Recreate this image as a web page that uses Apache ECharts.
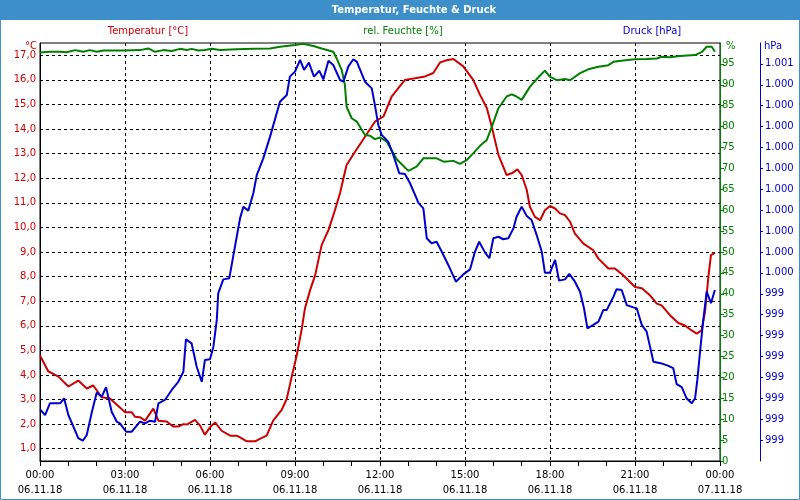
<!DOCTYPE html>
<html>
<head>
<meta charset="utf-8">
<script src="https://cdn.jsdelivr.net/npm/echarts@6/dist/echarts.min.js"></script>
<style>html,body{margin:0;padding:0;background:#fff}#c{width:800px;height:500px}</style>
</head>
<body>
<div id="c"></div>
<script>
// hours since 06.11.18 00:00
var tempTime = [0,0.29,0.65,1.00,1.35,1.65,1.88,2.18,2.47,2.82,3.00,3.24,3.35,3.53,3.71,4.00,4.18,4.47,4.70,4.88,5.06,5.18,5.47,5.65,5.82,6.00,6.18,6.41,6.71,6.94,7.06,7.30,7.59,7.76,8.00,8.23,8.53,8.71,8.88,9.06,9.24,9.35,9.53,9.71,9.94,10.18,10.41,10.59,10.82,11.12,11.47,11.82,12.12,12.41,12.88,13.24,13.59,13.88,14.12,14.35,14.59,14.94,15.29,15.53,15.77,15.94,16.18,16.47,16.65,16.85,17.00,17.18,17.29,17.47,17.65,17.82,18.00,18.18,18.35,18.53,18.71,18.88,19.18,19.53,19.71,20.06,20.29,20.59,20.76,21.00,21.24,21.53,21.77,21.94,22.24,22.53,22.76,23.00,23.18,23.35,23.47,23.59,23.68,23.82];
var tempVal = [4.79,4.15,3.93,3.53,3.77,3.45,3.57,3.09,3.04,2.68,2.48,2.48,2.30,2.28,2.14,2.63,2.14,2.11,1.90,1.90,2.00,1.98,2.17,1.94,1.57,1.87,2.07,1.73,1.53,1.53,1.46,1.30,1.30,1.40,1.53,2.14,2.58,3.03,3.91,4.79,5.88,6.70,7.44,8.05,9.28,9.89,10.70,11.40,12.54,13.08,13.69,14.30,14.51,15.32,16.00,16.07,16.14,16.28,16.71,16.80,16.85,16.55,16.00,15.39,14.86,14.11,12.95,12.13,12.20,12.36,12.13,11.52,10.84,10.43,10.29,10.70,10.87,10.77,10.57,10.50,10.23,9.75,9.34,9.07,8.73,8.33,8.33,8.05,7.85,7.58,7.53,7.24,6.90,6.83,6.42,6.11,6.01,5.81,5.68,5.81,6.56,7.99,8.87,8.96];

var humTime = [0,0.35,0.71,0.94,1.24,1.53,1.76,2.00,2.24,2.94,3.53,3.82,4.06,4.35,4.65,4.94,5.18,5.35,5.59,5.82,6.06,6.35,6.94,7.53,8.12,8.47,9.00,9.29,9.65,9.94,10.35,10.47,10.65,10.76,10.82,11.00,11.18,11.47,11.65,11.82,12.00,12.24,12.59,13.00,13.29,13.53,14.00,14.24,14.59,14.82,15.06,15.29,15.53,15.77,15.94,16.18,16.47,16.65,16.82,17.00,17.29,17.59,17.82,18.00,18.24,18.53,18.71,19.06,19.35,19.71,20.06,20.24,20.59,21.00,21.41,21.77,21.94,22.24,22.59,23.12,23.35,23.53,23.71,23.82];
var humVal = [97.7,97.9,97.9,97.8,98.3,97.9,98.3,97.9,98.2,98.2,98.3,98.7,97.9,98.3,98.1,98.6,98.3,98.6,98.2,98.3,98.6,98.3,98.5,98.6,98.7,99.1,99.5,99.8,99.3,98.7,97.9,96.3,93.5,90.0,84.8,82.0,81.2,78.0,77.8,77.0,77.4,76.4,72.2,69.4,70.4,72.4,72.4,71.6,71.8,71.1,72.0,73.6,75.4,76.8,79.8,84.4,87.2,87.7,87.2,86.4,89.5,91.8,93.4,91.9,91.1,91.4,91.1,92.8,93.7,94.3,94.7,95.5,95.8,96.1,96.2,96.3,96.7,96.6,96.9,97.1,97.8,99.1,99.1,97.9];

var presTime = [0,0.18,0.35,0.71,0.85,1.00,1.18,1.35,1.51,1.65,1.82,2.00,2.18,2.33,2.53,2.71,2.82,3.04,3.24,3.53,3.71,3.88,4.06,4.18,4.41,4.65,4.88,5.06,5.15,5.35,5.53,5.71,5.82,6.00,6.12,6.24,6.29,6.47,6.68,6.88,7.06,7.18,7.35,7.53,7.65,7.88,8.12,8.47,8.71,8.82,9.00,9.18,9.32,9.49,9.67,9.86,10.00,10.18,10.35,10.59,10.71,10.88,11.06,11.18,11.35,11.47,11.71,11.82,11.94,12.06,12.29,12.47,12.68,12.88,13.06,13.29,13.35,13.53,13.65,13.82,14.00,14.18,14.41,14.68,14.94,15.18,15.35,15.50,15.71,15.86,16.00,16.18,16.35,16.53,16.71,16.82,17.00,17.18,17.35,17.53,17.71,17.82,18.00,18.18,18.32,18.53,18.68,18.88,19.06,19.20,19.32,19.53,19.71,19.88,20.00,20.24,20.35,20.53,20.71,20.94,21.06,21.24,21.41,21.65,21.94,22.18,22.35,22.47,22.65,22.82,23.00,23.12,23.20,23.29,23.41,23.53,23.68,23.82];
var presVal = [998.897,998.870,998.926,998.926,998.950,998.870,998.814,998.759,998.747,998.774,998.878,998.977,998.958,999.003,998.886,998.838,998.830,998.790,998.790,998.838,998.830,998.843,998.838,998.926,998.942,998.990,999.029,999.077,999.232,999.213,999.101,999.029,999.133,999.137,999.197,999.325,999.452,999.519,999.524,999.675,999.811,999.867,999.848,999.931,1000.018,1000.098,1000.202,1000.369,1000.401,1000.489,1000.513,1000.569,1000.521,1000.556,1000.489,1000.517,1000.476,1000.565,1000.545,1000.473,1000.465,1000.537,1000.572,1000.561,1000.505,1000.465,1000.433,1000.353,1000.258,1000.210,1000.178,1000.114,1000.027,1000.023,999.979,999.907,999.886,999.859,999.716,999.692,999.699,999.651,999.588,999.508,999.543,999.567,999.651,999.699,999.647,999.620,999.716,999.723,999.711,999.716,999.763,999.819,999.867,999.822,999.803,999.731,999.651,999.551,999.551,999.612,999.513,999.519,999.545,999.508,999.460,999.381,999.285,999.301,999.317,999.372,999.372,999.436,999.472,999.468,999.396,999.385,999.381,999.301,999.269,999.125,999.117,999.105,999.094,999.018,999.003,998.950,998.926,998.950,999.038,999.165,999.325,999.460,999.405,999.468];

var tempTicks = [1,2,3,4,5,6,7,8,9,10,11,12,13,14,15,16,17];
var dayLabels = ['06.11.18','07.11.18'];
var titleText = 'Temperatur, Feuchte & Druck';
var tempName = 'Temperatur [°C]', humName = 'rel. Feuchte [%]', presName = 'Druck [hPa]';

function zip(t, v) {
  var out = [];
  for (var i = 0; i < Math.min(t.length, v.length); i++) out.push([t[i], v[i]]);
  return out;
}
var RED = '#cc0000', GREEN = '#008000', BLUE = '#0000cc', FRAME = '#3d8fc9';
var FONT = 'DejaVu Sans';

var chart = echarts.init(document.getElementById('c'), null, {renderer: 'canvas'});
chart.setOption({
  animation: false,
  backgroundColor: '#fff',
  textStyle: {fontFamily: FONT},
  grid: {left: 40, right: 80, top: 43, bottom: 39, show: true, borderColor: '#000', borderWidth: 1, backgroundColor: 'transparent'},
  graphic: [
    {type: 'rect', z: -10, shape: {x: 0.5, y: 0.5, width: 799, height: 499}, style: {fill: '#fff', stroke: FRAME, lineWidth: 1}},
    {type: 'rect', z: -9, shape: {x: 0, y: 0, width: 800, height: 20}, style: {fill: FRAME}},
    {type: 'text', x: 414, y: 10, style: {text: titleText, fill: '#fff', font: 'bold 10px "DejaVu Sans"', align: 'center', verticalAlign: 'middle'}},
    {type: 'text', x: 148, y: 31, style: {text: tempName, fill: RED, font: '10px "DejaVu Sans"', align: 'center', verticalAlign: 'middle'}},
    {type: 'text', x: 403, y: 31, style: {text: humName, fill: GREEN, font: '10px "DejaVu Sans"', align: 'center', verticalAlign: 'middle'}},
    {type: 'text', x: 652, y: 31, style: {text: presName, fill: BLUE, font: '10px "DejaVu Sans"', align: 'center', verticalAlign: 'middle'}},
    {type: 'text', x: 37, y: 46, style: {text: '°C', fill: RED, font: '10px "DejaVu Sans"', align: 'right', verticalAlign: 'middle'}},
    {type: 'text', x: 726, y: 46, style: {text: '%', fill: GREEN, font: '10px "DejaVu Sans"', align: 'left', verticalAlign: 'middle'}},
    {type: 'text', x: 764, y: 46, style: {text: 'hPa', fill: BLUE, font: '10px "DejaVu Sans"', align: 'left', verticalAlign: 'middle'}}
  ],
  xAxis: {
    type: 'value', min: 0, max: 24, interval: 3,
    axisLine: {show: true, lineStyle: {color: '#000', width: 1}},
    axisTick: {show: true, length: 5, lineStyle: {color: '#000'}},
    minorTick: {show: true, splitNumber: 3, length: 5, lineStyle: {color: '#000'}},
    axisLabel: {
      color: '#000', fontSize: 10, fontFamily: FONT, margin: 7, lineHeight: 15,
      showMinLabel: true, showMaxLabel: true,
      formatter: function (v) {
        var h = Math.round(v);
        var hh = h % 24;
        return (hh < 10 ? '0' : '') + hh + ':00\n' + (h >= 24 ? dayLabels[1] : dayLabels[0]);
      }
    },
    splitLine: {show: true, lineStyle: {color: '#000', type: [3, 3], width: 1}}
  },
  yAxis: [
    {
      type: 'value', position: 'left', min: 0.5, max: 17.5,
      axisLine: {show: true, lineStyle: {color: '#000'}},
      axisTick: {show: false, customValues: tempTicks},
      axisLabel: {customValues: tempTicks, color: RED, fontSize: 10, fontFamily: FONT, margin: 4,
        formatter: function (v) { return v.toFixed(1).replace('.', ','); }},
      splitLine: {show: true, lineStyle: {color: '#000', type: [3, 3], width: 1}}
    },
    {
      type: 'value', position: 'right', min: 0, max: 100, interval: 5,
      axisLine: {show: true, lineStyle: {color: GREEN, width: 1}},
      axisTick: {show: true, inside: false, length: 4, lineStyle: {color: GREEN}},
      axisLabel: {color: GREEN, fontSize: 10, fontFamily: FONT, margin: 2, showMaxLabel: false, showMinLabel: true},
      splitLine: {show: false}
    },
    {
      type: 'value', position: 'right', offset: 40, min: 998.65, max: 1000.65, interval: 0.1,
      axisLine: {show: true, lineStyle: {color: BLUE, width: 1}},
      axisTick: {show: true, length: 3, lineStyle: {color: BLUE}},
      axisLabel: {color: BLUE, fontSize: 10, fontFamily: FONT, margin: 5, showMaxLabel: false, showMinLabel: false,
        formatter: function (v) {
          var r = Math.round(v);
          return r >= 1000 ? Math.floor(r / 1000) + '.' + ('00' + (r % 1000)).slice(-3) : String(r);
        }},
      splitLine: {show: false}
    }
  ],
  series: [
    {name: tempName, type: 'line', yAxisIndex: 0, data: zip(tempTime, tempVal), showSymbol: false, symbol: 'none',
      lineStyle: {color: RED, width: 2}, itemStyle: {color: RED}, z: 3},
    {name: humName, type: 'line', yAxisIndex: 1, data: zip(humTime, humVal), showSymbol: false, symbol: 'none',
      lineStyle: {color: GREEN, width: 2}, itemStyle: {color: GREEN}, z: 3},
    {name: presName, type: 'line', yAxisIndex: 2, data: zip(presTime, presVal), showSymbol: false, symbol: 'none',
      lineStyle: {color: BLUE, width: 2}, itemStyle: {color: BLUE}, z: 3}
  ]
});
</script>
</body>
</html>
